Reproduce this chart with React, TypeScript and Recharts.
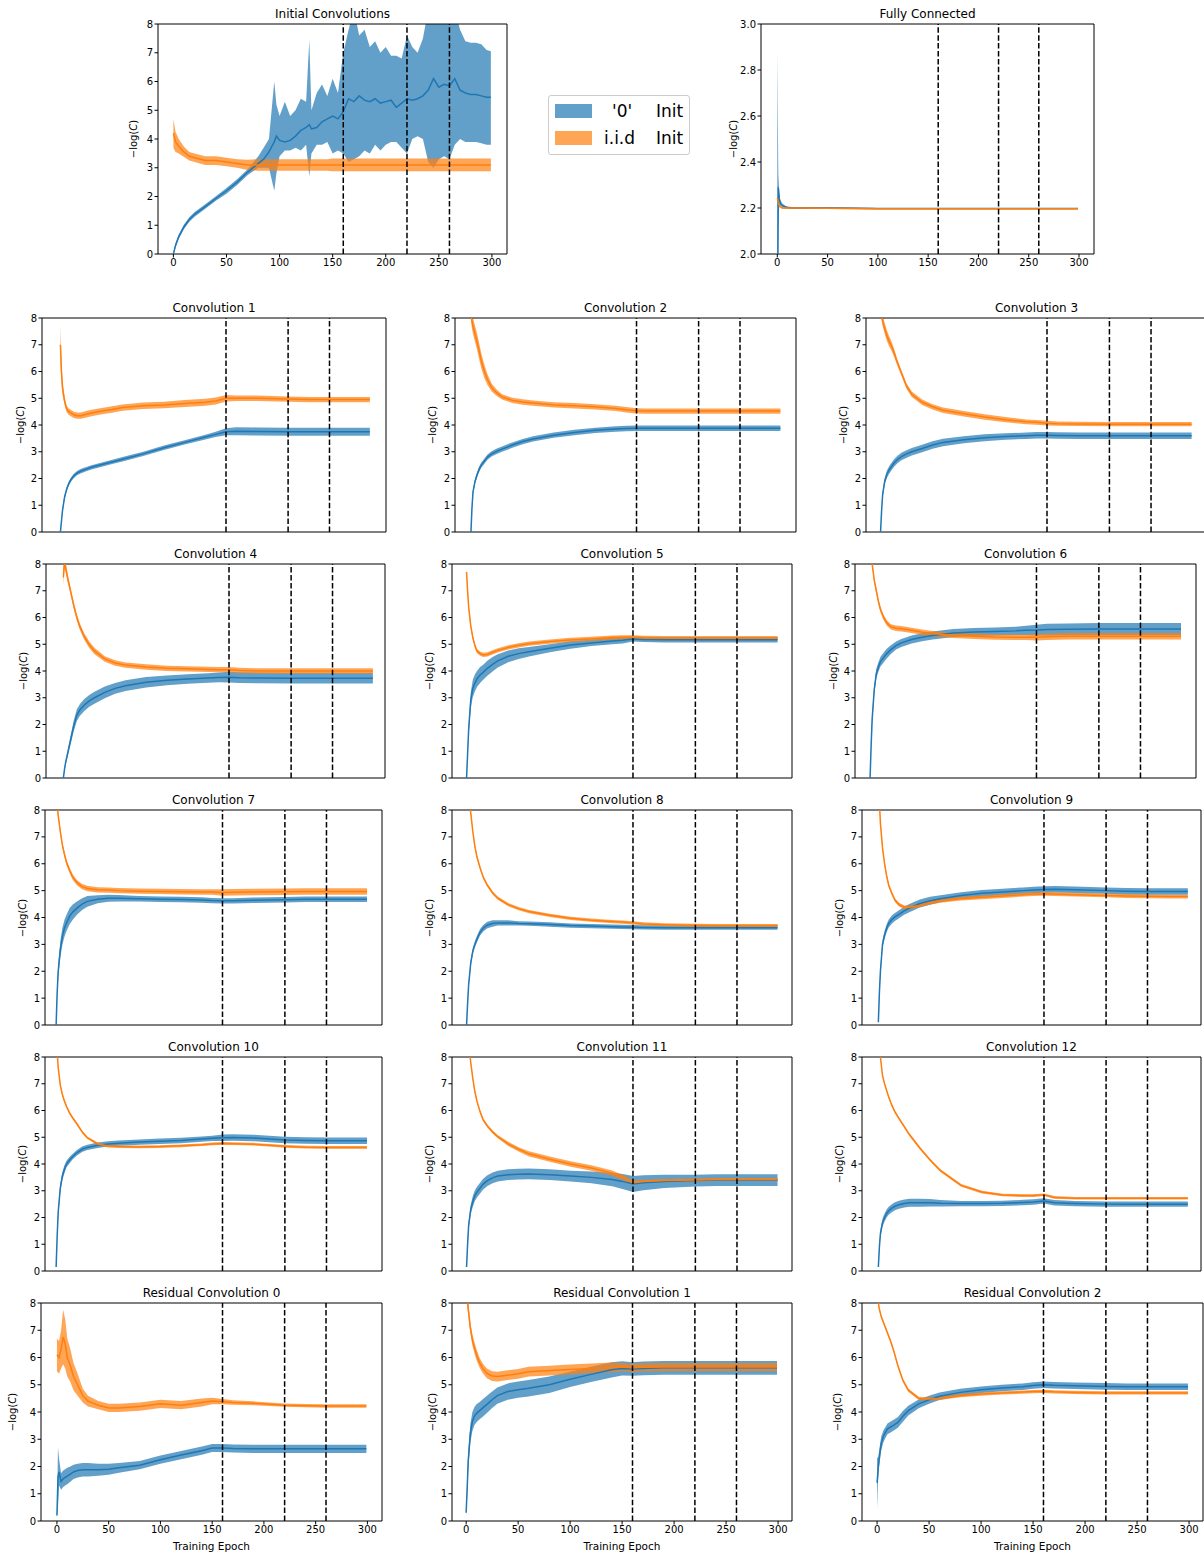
import React from 'react';
import { ComposedChart, Area, Line, XAxis, YAxis, ReferenceLine, ReferenceArea } from 'recharts';

const BLUE = '#1f77b4';
const ORANGE = '#ff7f0e';
const FONT = '"DejaVu Sans", sans-serif';

// learning-rate drops marked with dashed lines
const LR_DROPS = [160, 220, 260];
const X_TICKS = [0, 50, 100, 150, 200, 250, 300];
const Y_TICKS = [0, 1, 2, 3, 4, 5, 6, 7, 8];
const FC_Y_TICKS = [2.0, 2.2, 2.4, 2.6, 2.8, 3.0];

// sampled epochs for the 15 grid panels
const EPOCHS = [0, 1, 2, 4, 6, 8, 10, 13, 16, 20, 25, 30, 40, 50, 60, 80, 100, 120, 140, 150, 160, 170, 190, 220, 240, 260, 280, 299];

// Initial Convolutions
const INIT_EPOCHS = [0, 2, 5, 10, 15, 20, 30, 40, 50, 60, 70, 80, 85, 90, 95, 97, 100, 105, 110, 115, 120, 125, 128, 130, 135, 140, 145, 150, 155, 160, 165, 170, 175, 180, 185, 190, 195, 200, 205, 210, 215, 220, 225, 230, 235, 240, 245, 250, 255, 260, 265, 270, 275, 280, 285, 290, 295, 299];
const INIT_BLUE = [0, 0.3, 0.6, 0.95, 1.2, 1.38, 1.65, 1.93, 2.2, 2.5, 2.85, 3.15, 3.3, 3.55, 3.9, 4.1, 3.95, 3.9, 3.95, 4.1, 4.3, 4.4, 4.5, 4.35, 4.4, 4.6, 4.7, 4.8, 4.7, 4.95, 5.4, 5.3, 5.5, 5.35, 5.3, 5.4, 5.25, 5.3, 5.35, 5.1, 5.25, 5.4, 5.35, 5.4, 5.5, 5.7, 6.1, 5.8, 5.9, 5.85, 6.1, 5.7, 5.6, 5.55, 5.55, 5.5, 5.45, 5.45];
const INIT_BLUE_LO = [0, 0.22, 0.52, 0.87, 1.12, 1.3, 1.57, 1.85, 2.1, 2.4, 2.75, 3.0, 3.0, 3.0, 2.2, 2.8, 3.4, 3.6, 3.6, 3.7, 3.6, 3.8, 2.7, 3.5, 3.8, 3.8, 3.9, 3.5, 3.6, 3.5, 3.2, 3.3, 3.4, 3.6, 3.5, 3.8, 3.6, 3.8, 3.9, 3.9, 3.7, 3.5, 4.0, 4.1, 4.0, 3.2, 3.0, 3.3, 3.4, 3.3, 3.8, 4.0, 3.9, 3.9, 3.9, 3.85, 3.8, 3.8];
const INIT_BLUE_HI = [0.05, 0.38, 0.68, 1.03, 1.28, 1.46, 1.73, 2.01, 2.3, 2.6, 2.95, 3.4, 3.7, 4.0, 6.0, 5.2, 4.8, 5.3, 4.8, 5.0, 5.4, 5.3, 7.45, 5.0, 5.6, 5.9, 5.5, 6.1, 5.6, 7.0, 7.8, 8.5, 7.6, 7.8, 7.2, 7.4, 7.0, 7.2, 6.9, 6.9, 6.8, 7.6, 7.2, 7.0, 7.5, 8.5, 9.0, 9.0, 8.5, 8.8, 8.5, 7.8, 7.4, 7.35, 7.35, 7.3, 7.1, 7.05];
const INIT_ORANGE = [4.2, 3.9, 3.75, 3.55, 3.4, 3.35, 3.25, 3.25, 3.2, 3.15, 3.1, 3.1, 3.1, 3.1, 3.1, 3.1, 3.1, 3.1, 3.1, 3.1, 3.1, 3.1, 3.1, 3.1, 3.1, 3.1, 3.1, 3.1, 3.1, 3.1, 3.1, 3.1, 3.1, 3.1, 3.1, 3.1, 3.1, 3.1, 3.1, 3.1, 3.1, 3.1, 3.1, 3.1, 3.1, 3.1, 3.1, 3.1, 3.1, 3.1, 3.1, 3.1, 3.1, 3.1, 3.1, 3.1, 3.1, 3.1];
const INIT_ORANGE_SD = [0.5, 0.35, 0.25, 0.18, 0.15, 0.15, 0.15, 0.15, 0.15, 0.15, 0.18, 0.2, 0.2, 0.2, 0.2, 0.2, 0.2, 0.2, 0.2, 0.2, 0.2, 0.2, 0.2, 0.2, 0.2, 0.2, 0.2, 0.22, 0.22, 0.22, 0.22, 0.22, 0.22, 0.22, 0.22, 0.22, 0.22, 0.22, 0.22, 0.22, 0.22, 0.22, 0.22, 0.22, 0.22, 0.22, 0.22, 0.22, 0.22, 0.22, 0.22, 0.22, 0.22, 0.22, 0.22, 0.22, 0.22, 0.22];

// Fully Connected
const FC_EPOCHS = [0, 1, 2, 3, 5, 8, 10, 15, 20, 50, 100, 150, 200, 250, 299];
const FC_BLUE = [1.6, 2.29, 2.24, 2.22, 2.21, 2.205, 2.202, 2.2, 2.2, 2.2, 2.198, 2.198, 2.198, 2.198, 2.198];
const FC_BLUE_LO = [1.0, 2.1, 2.22, 2.21, 2.205, 2.2, 2.198, 2.197, 2.197, 2.197, 2.196, 2.196, 2.196, 2.196, 2.196];
const FC_BLUE_HI = [2.88, 2.35, 2.26, 2.235, 2.22, 2.21, 2.206, 2.204, 2.203, 2.203, 2.2, 2.2, 2.2, 2.2, 2.2];
const FC_ORANGE = [2.245, 2.225, 2.21, 2.205, 2.2, 2.2, 2.2, 2.2, 2.2, 2.199, 2.197, 2.197, 2.197, 2.197, 2.197];
const FC_ORANGE_SD = [0.004, 0.004, 0.003, 0.003, 0.003, 0.003, 0.003, 0.003, 0.003, 0.003, 0.003, 0.003, 0.003, 0.003, 0.003];

// Convolution 1..12 and residual convolutions (mean, spread) on EPOCHS
const CONV1_BLUE = [0, 0.4, 0.8, 1.3, 1.6, 1.8, 1.95, 2.1, 2.2, 2.28, 2.35, 2.42, 2.52, 2.62, 2.72, 2.92, 3.15, 3.35, 3.55, 3.65, 3.75, 3.77, 3.76, 3.75, 3.75, 3.75, 3.75, 3.75];
const CONV1_BLUE_SD = [0.02, 0.05, 0.08, 0.08, 0.08, 0.08, 0.08, 0.08, 0.08, 0.08, 0.08, 0.08, 0.08, 0.08, 0.08, 0.08, 0.08, 0.08, 0.09, 0.1, 0.13, 0.15, 0.15, 0.15, 0.15, 0.15, 0.15, 0.15];
const CONV1_ORANGE = [7.0, 6.0, 5.4, 4.9, 4.6, 4.5, 4.45, 4.38, 4.35, 4.35, 4.4, 4.45, 4.52, 4.58, 4.65, 4.72, 4.75, 4.8, 4.85, 4.9, 5.0, 5.0, 5.0, 4.97, 4.95, 4.95, 4.95, 4.95];
const CONV1_ORANGE_SD = [0.7, 0.4, 0.25, 0.15, 0.12, 0.12, 0.12, 0.12, 0.12, 0.12, 0.12, 0.12, 0.12, 0.12, 0.12, 0.12, 0.12, 0.13, 0.13, 0.13, 0.12, 0.1, 0.1, 0.1, 0.1, 0.1, 0.1, 0.1];

const CONV2_BLUE = [0, 0.9, 1.5, 1.9, 2.15, 2.35, 2.5, 2.65, 2.8, 2.92, 3.02, 3.1, 3.25, 3.38, 3.48, 3.62, 3.72, 3.8, 3.85, 3.87, 3.88, 3.88, 3.88, 3.88, 3.88, 3.88, 3.88, 3.88];
const CONV2_BLUE_SD = [0.02, 0.05, 0.08, 0.1, 0.1, 0.1, 0.1, 0.1, 0.1, 0.1, 0.1, 0.1, 0.1, 0.1, 0.1, 0.1, 0.1, 0.1, 0.1, 0.1, 0.1, 0.1, 0.1, 0.1, 0.1, 0.1, 0.1, 0.1];
const CONV2_ORANGE = [8.2, 7.9, 7.7, 7.4, 7.1, 6.75, 6.4, 6.0, 5.7, 5.4, 5.2, 5.05, 4.92, 4.86, 4.82, 4.75, 4.72, 4.68, 4.62, 4.57, 4.53, 4.52, 4.52, 4.52, 4.52, 4.52, 4.52, 4.52];
const CONV2_ORANGE_SD = [0.3, 0.3, 0.3, 0.3, 0.3, 0.3, 0.28, 0.25, 0.2, 0.15, 0.12, 0.1, 0.1, 0.1, 0.1, 0.1, 0.1, 0.1, 0.1, 0.1, 0.1, 0.1, 0.1, 0.1, 0.1, 0.1, 0.1, 0.1];

const CONV3_BLUE = [0, 0.8, 1.4, 1.9, 2.15, 2.3, 2.42, 2.58, 2.7, 2.82, 2.92, 3.0, 3.12, 3.25, 3.35, 3.45, 3.52, 3.57, 3.6, 3.62, 3.62, 3.61, 3.6, 3.6, 3.6, 3.6, 3.6, 3.6];
const CONV3_BLUE_SD = [0.02, 0.06, 0.1, 0.12, 0.14, 0.14, 0.14, 0.14, 0.14, 0.14, 0.14, 0.14, 0.14, 0.14, 0.14, 0.13, 0.13, 0.12, 0.12, 0.12, 0.12, 0.12, 0.12, 0.12, 0.12, 0.12, 0.12, 0.12];
const CONV3_ORANGE = [8.3, 8.1, 7.9, 7.6, 7.35, 7.15, 7.0, 6.7, 6.35, 5.95, 5.45, 5.15, 4.85, 4.68, 4.55, 4.42, 4.3, 4.2, 4.12, 4.1, 4.07, 4.05, 4.04, 4.03, 4.03, 4.03, 4.03, 4.03];
const CONV3_ORANGE_SD = [0.2, 0.2, 0.2, 0.2, 0.2, 0.2, 0.18, 0.15, 0.12, 0.1, 0.1, 0.1, 0.1, 0.1, 0.1, 0.1, 0.1, 0.1, 0.09, 0.09, 0.09, 0.08, 0.08, 0.08, 0.08, 0.08, 0.08, 0.08];

const CONV4_BLUE = [0, 0.3, 0.55, 0.9, 1.25, 1.6, 1.95, 2.35, 2.55, 2.72, 2.88, 3.0, 3.2, 3.35, 3.45, 3.58, 3.65, 3.7, 3.74, 3.76, 3.77, 3.75, 3.74, 3.73, 3.73, 3.73, 3.73, 3.73];
const CONV4_BLUE_SD = [0.02, 0.05, 0.08, 0.12, 0.15, 0.18, 0.2, 0.22, 0.22, 0.22, 0.22, 0.22, 0.22, 0.2, 0.2, 0.2, 0.18, 0.18, 0.18, 0.18, 0.2, 0.2, 0.2, 0.2, 0.2, 0.2, 0.2, 0.2];
const CONV4_ORANGE = [7.5, 8.1, 7.9, 7.5, 7.15, 6.8, 6.45, 6.0, 5.65, 5.3, 4.98, 4.75, 4.45, 4.3, 4.22, 4.15, 4.1, 4.08, 4.06, 4.05, 4.05, 4.02, 4.0, 4.0, 4.0, 4.0, 4.0, 4.0];
const CONV4_ORANGE_SD = [0.3, 0.3, 0.2, 0.15, 0.12, 0.12, 0.12, 0.12, 0.12, 0.12, 0.12, 0.12, 0.1, 0.1, 0.1, 0.1, 0.1, 0.1, 0.1, 0.1, 0.1, 0.1, 0.1, 0.1, 0.1, 0.1, 0.1, 0.1];

const CONV5_BLUE = [0, 0.9, 1.8, 2.9, 3.35, 3.55, 3.7, 3.85, 3.95, 4.1, 4.25, 4.38, 4.55, 4.65, 4.72, 4.85, 4.97, 5.05, 5.12, 5.15, 5.2, 5.18, 5.17, 5.17, 5.17, 5.17, 5.17, 5.17];
const CONV5_BLUE_SD = [0.02, 0.1, 0.2, 0.3, 0.32, 0.32, 0.3, 0.3, 0.28, 0.28, 0.27, 0.25, 0.22, 0.2, 0.18, 0.15, 0.14, 0.12, 0.12, 0.12, 0.1, 0.1, 0.1, 0.1, 0.1, 0.1, 0.1, 0.1];
const CONV5_ORANGE = [7.7, 7.0, 6.4, 5.7, 5.25, 4.95, 4.75, 4.65, 4.6, 4.62, 4.7, 4.77, 4.88, 4.96, 5.02, 5.1, 5.16, 5.2, 5.25, 5.26, 5.26, 5.24, 5.23, 5.23, 5.23, 5.23, 5.23, 5.23];
const CONV5_ORANGE_SD = [0.1, 0.1, 0.1, 0.08, 0.08, 0.08, 0.08, 0.08, 0.08, 0.08, 0.08, 0.08, 0.08, 0.08, 0.08, 0.08, 0.08, 0.08, 0.08, 0.08, 0.08, 0.08, 0.08, 0.08, 0.08, 0.08, 0.08, 0.08];

const CONV6_BLUE = [0, 1.2, 2.2, 3.3, 3.9, 4.15, 4.35, 4.5, 4.65, 4.8, 4.95, 5.05, 5.18, 5.26, 5.33, 5.42, 5.46, 5.48, 5.5, 5.52, 5.53, 5.55, 5.56, 5.57, 5.57, 5.57, 5.57, 5.57];
const CONV6_BLUE_SD = [0.02, 0.1, 0.15, 0.18, 0.18, 0.18, 0.18, 0.18, 0.18, 0.16, 0.15, 0.15, 0.15, 0.15, 0.15, 0.15, 0.15, 0.15, 0.15, 0.17, 0.2, 0.22, 0.22, 0.22, 0.22, 0.22, 0.22, 0.22];
const CONV6_ORANGE = [8.8, 8.4, 8.0, 7.4, 7.0, 6.6, 6.3, 6.0, 5.8, 5.65, 5.6, 5.58, 5.52, 5.45, 5.4, 5.33, 5.3, 5.27, 5.26, 5.26, 5.26, 5.28, 5.3, 5.3, 5.3, 5.3, 5.3, 5.3];
const CONV6_ORANGE_SD = [0.1, 0.1, 0.1, 0.1, 0.1, 0.1, 0.1, 0.1, 0.1, 0.1, 0.1, 0.1, 0.1, 0.1, 0.1, 0.1, 0.1, 0.1, 0.1, 0.1, 0.12, 0.12, 0.12, 0.12, 0.12, 0.12, 0.12, 0.12];

const CONV7_BLUE = [0, 1.2, 2.0, 2.8, 3.3, 3.6, 3.8, 4.05, 4.2, 4.35, 4.5, 4.6, 4.68, 4.72, 4.72, 4.7, 4.68, 4.67, 4.65, 4.63, 4.62, 4.62, 4.64, 4.66, 4.68, 4.68, 4.68, 4.68];
const CONV7_BLUE_SD = [0.02, 0.15, 0.25, 0.3, 0.32, 0.32, 0.3, 0.3, 0.28, 0.25, 0.22, 0.2, 0.15, 0.13, 0.12, 0.1, 0.1, 0.1, 0.1, 0.1, 0.1, 0.1, 0.1, 0.1, 0.1, 0.1, 0.1, 0.1];
const CONV7_ORANGE = [8.8, 8.2, 7.8, 7.2, 6.7, 6.35, 6.05, 5.75, 5.5, 5.3, 5.15, 5.08, 5.03, 5.02, 5.0, 4.98, 4.97, 4.96, 4.95, 4.95, 4.93, 4.94, 4.95, 4.96, 4.97, 4.97, 4.97, 4.97];
const CONV7_ORANGE_SD = [0.1, 0.1, 0.1, 0.1, 0.1, 0.1, 0.1, 0.1, 0.1, 0.1, 0.1, 0.1, 0.1, 0.1, 0.1, 0.1, 0.1, 0.1, 0.1, 0.1, 0.12, 0.12, 0.12, 0.12, 0.12, 0.12, 0.12, 0.12];

const CONV8_BLUE = [0, 0.8, 1.5, 2.3, 2.75, 3.0, 3.2, 3.45, 3.6, 3.72, 3.78, 3.8, 3.8, 3.78, 3.77, 3.74, 3.7, 3.68, 3.66, 3.65, 3.64, 3.63, 3.62, 3.62, 3.62, 3.62, 3.62, 3.62];
const CONV8_BLUE_SD = [0.02, 0.08, 0.1, 0.12, 0.12, 0.12, 0.12, 0.12, 0.12, 0.12, 0.12, 0.1, 0.1, 0.08, 0.08, 0.08, 0.08, 0.08, 0.08, 0.08, 0.08, 0.08, 0.08, 0.08, 0.08, 0.08, 0.08, 0.08];
const CONV8_ORANGE = [9.5, 9.0, 8.6, 7.9, 7.2, 6.65, 6.25, 5.85, 5.5, 5.2, 4.92, 4.72, 4.48, 4.33, 4.22, 4.08, 3.97, 3.9, 3.85, 3.83, 3.8, 3.76, 3.73, 3.71, 3.7, 3.7, 3.7, 3.7];
const CONV8_ORANGE_SD = [0.06, 0.06, 0.06, 0.06, 0.06, 0.06, 0.06, 0.06, 0.06, 0.06, 0.06, 0.06, 0.06, 0.06, 0.06, 0.06, 0.06, 0.06, 0.06, 0.06, 0.06, 0.06, 0.06, 0.06, 0.06, 0.06, 0.06, 0.06];

const CONV9_BLUE = [0.1, 1.2, 2.0, 3.0, 3.35, 3.6, 3.78, 3.92, 4.02, 4.12, 4.25, 4.35, 4.52, 4.62, 4.7, 4.82, 4.9, 4.95, 5.0, 5.02, 5.04, 5.05, 5.03, 5.0, 4.98, 4.97, 4.97, 4.97];
const CONV9_BLUE_SD = [0.05, 0.15, 0.15, 0.15, 0.15, 0.15, 0.15, 0.15, 0.15, 0.15, 0.15, 0.15, 0.15, 0.15, 0.13, 0.12, 0.12, 0.12, 0.12, 0.12, 0.12, 0.12, 0.12, 0.12, 0.12, 0.12, 0.12, 0.12];
const CONV9_ORANGE = [9.0, 8.3, 7.5, 6.6, 6.0, 5.55, 5.2, 4.9, 4.65, 4.48, 4.38, 4.38, 4.45, 4.55, 4.62, 4.7, 4.75, 4.8, 4.85, 4.87, 4.88, 4.87, 4.85, 4.82, 4.8, 4.79, 4.78, 4.78];
const CONV9_ORANGE_SD = [0.07, 0.07, 0.07, 0.07, 0.07, 0.07, 0.07, 0.07, 0.07, 0.07, 0.07, 0.07, 0.07, 0.07, 0.07, 0.07, 0.07, 0.07, 0.07, 0.07, 0.07, 0.07, 0.07, 0.07, 0.07, 0.07, 0.07, 0.07];

const CONV10_BLUE = [0.15, 1.3, 2.2, 3.1, 3.55, 3.8, 4.0, 4.15, 4.28, 4.42, 4.55, 4.62, 4.7, 4.75, 4.78, 4.82, 4.85, 4.88, 4.93, 4.96, 4.98, 4.99, 4.97, 4.9, 4.88, 4.87, 4.87, 4.87];
const CONV10_BLUE_SD = [0.02, 0.1, 0.15, 0.15, 0.15, 0.15, 0.12, 0.12, 0.1, 0.1, 0.1, 0.1, 0.1, 0.1, 0.1, 0.1, 0.1, 0.1, 0.1, 0.1, 0.12, 0.12, 0.12, 0.12, 0.12, 0.12, 0.12, 0.12];
const CONV10_ORANGE = [9.0, 8.2, 7.6, 6.95, 6.6, 6.35, 6.15, 5.9, 5.72, 5.5, 5.2, 4.98, 4.75, 4.67, 4.65, 4.64, 4.65, 4.68, 4.72, 4.75, 4.77, 4.76, 4.74, 4.66, 4.63, 4.62, 4.62, 4.62];
const CONV10_ORANGE_SD = [0.05, 0.05, 0.05, 0.05, 0.05, 0.05, 0.05, 0.05, 0.05, 0.05, 0.05, 0.05, 0.05, 0.05, 0.05, 0.05, 0.05, 0.05, 0.05, 0.05, 0.05, 0.05, 0.05, 0.05, 0.05, 0.05, 0.05, 0.05];

const CONV11_BLUE = [0.15, 1.0, 1.7, 2.3, 2.6, 2.82, 2.95, 3.1, 3.25, 3.38, 3.48, 3.55, 3.6, 3.62, 3.63, 3.6, 3.55, 3.5, 3.42, 3.35, 3.25, 3.3, 3.35, 3.38, 3.4, 3.4, 3.4, 3.4];
const CONV11_BLUE_SD = [0.02, 0.12, 0.15, 0.18, 0.2, 0.2, 0.2, 0.2, 0.2, 0.2, 0.2, 0.2, 0.2, 0.2, 0.2, 0.2, 0.2, 0.22, 0.25, 0.28, 0.3, 0.28, 0.25, 0.22, 0.22, 0.22, 0.22, 0.22];
const CONV11_ORANGE = [9.5, 9.0, 8.5, 7.8, 7.2, 6.7, 6.35, 5.95, 5.65, 5.42, 5.2, 5.02, 4.75, 4.55, 4.38, 4.18, 4.0, 3.85, 3.66, 3.5, 3.3, 3.35, 3.38, 3.4, 3.42, 3.42, 3.42, 3.42];
const CONV11_ORANGE_SD = [0.06, 0.06, 0.06, 0.06, 0.06, 0.06, 0.06, 0.06, 0.06, 0.06, 0.06, 0.06, 0.08, 0.08, 0.1, 0.1, 0.1, 0.1, 0.1, 0.1, 0.08, 0.06, 0.06, 0.06, 0.06, 0.06, 0.06, 0.06];

const CONV12_BLUE = [0.15, 0.9, 1.4, 1.8, 2.0, 2.15, 2.25, 2.35, 2.42, 2.48, 2.52, 2.55, 2.55, 2.55, 2.53, 2.52, 2.52, 2.53, 2.56, 2.58, 2.62, 2.55, 2.52, 2.5, 2.5, 2.5, 2.5, 2.5];
const CONV12_BLUE_SD = [0.02, 0.1, 0.15, 0.15, 0.15, 0.15, 0.15, 0.15, 0.15, 0.15, 0.15, 0.15, 0.15, 0.14, 0.12, 0.1, 0.1, 0.1, 0.1, 0.1, 0.1, 0.1, 0.1, 0.1, 0.1, 0.1, 0.1, 0.1];
const CONV12_ORANGE = [9.0, 8.5, 8.0, 7.3, 7.0, 6.75, 6.5, 6.2, 5.95, 5.7, 5.4, 5.1, 4.6, 4.15, 3.75, 3.2, 2.95, 2.84, 2.82, 2.82, 2.85, 2.75, 2.72, 2.72, 2.72, 2.72, 2.72, 2.72];
const CONV12_ORANGE_SD = [0.05, 0.05, 0.05, 0.05, 0.05, 0.05, 0.05, 0.05, 0.05, 0.05, 0.05, 0.05, 0.05, 0.05, 0.05, 0.05, 0.05, 0.05, 0.05, 0.05, 0.05, 0.05, 0.05, 0.05, 0.05, 0.05, 0.05, 0.05];

const RES0_BLUE = [0.2, 1.6, 1.8, 1.45, 1.55, 1.6, 1.65, 1.72, 1.8, 1.85, 1.88, 1.88, 1.88, 1.9, 1.95, 2.05, 2.25, 2.42, 2.58, 2.68, 2.68, 2.66, 2.65, 2.65, 2.65, 2.65, 2.65, 2.65];
const RES0_BLUE_SD = [0.05, 1.1, 0.5, 0.3, 0.3, 0.3, 0.3, 0.28, 0.26, 0.25, 0.25, 0.25, 0.22, 0.2, 0.18, 0.15, 0.15, 0.15, 0.15, 0.15, 0.15, 0.15, 0.15, 0.15, 0.15, 0.15, 0.15, 0.15];
const RES0_ORANGE = [6.1, 6.05, 6.0, 6.3, 6.75, 6.5, 6.0, 5.7, 5.3, 5.0, 4.6, 4.4, 4.25, 4.15, 4.15, 4.2, 4.3, 4.25, 4.35, 4.4, 4.38, 4.35, 4.32, 4.25, 4.23, 4.22, 4.22, 4.22];
const RES0_ORANGE_SD = [0.6, 0.6, 0.6, 0.7, 1.0, 0.9, 0.7, 0.6, 0.5, 0.4, 0.25, 0.2, 0.15, 0.15, 0.15, 0.15, 0.15, 0.15, 0.15, 0.12, 0.1, 0.08, 0.07, 0.06, 0.06, 0.06, 0.06, 0.06];

const RES1_BLUE = [0.3, 1.2, 2.2, 3.2, 3.65, 3.85, 3.95, 4.05, 4.15, 4.28, 4.45, 4.6, 4.75, 4.82, 4.87, 5.0, 5.2, 5.38, 5.55, 5.6, 5.58, 5.6, 5.62, 5.62, 5.62, 5.62, 5.62, 5.62];
const RES1_BLUE_SD = [0.1, 0.3, 0.35, 0.35, 0.35, 0.33, 0.33, 0.32, 0.32, 0.32, 0.3, 0.3, 0.3, 0.3, 0.3, 0.3, 0.28, 0.28, 0.28, 0.26, 0.25, 0.25, 0.25, 0.25, 0.25, 0.25, 0.25, 0.25];
const RES1_ORANGE = [8.6, 8.2, 7.8, 7.1, 6.65, 6.35, 6.1, 5.8, 5.6, 5.42, 5.32, 5.3, 5.35, 5.4, 5.48, 5.52, 5.56, 5.6, 5.64, 5.65, 5.62, 5.64, 5.65, 5.65, 5.65, 5.65, 5.65, 5.65];
const RES1_ORANGE_SD = [0.3, 0.3, 0.25, 0.2, 0.2, 0.2, 0.2, 0.18, 0.18, 0.18, 0.18, 0.18, 0.18, 0.18, 0.18, 0.18, 0.18, 0.18, 0.18, 0.15, 0.15, 0.15, 0.15, 0.15, 0.15, 0.15, 0.15, 0.15];

const RES2_BLUE = [1.4, 1.9, 2.3, 2.85, 3.1, 3.25, 3.38, 3.45, 3.52, 3.62, 3.85, 4.05, 4.3, 4.45, 4.58, 4.72, 4.82, 4.88, 4.93, 4.97, 5.0, 4.98, 4.96, 4.94, 4.93, 4.93, 4.93, 4.93];
const RES2_BLUE_SD = [0.95, 0.4, 0.3, 0.25, 0.22, 0.2, 0.2, 0.2, 0.2, 0.2, 0.2, 0.18, 0.16, 0.15, 0.14, 0.13, 0.12, 0.12, 0.12, 0.12, 0.12, 0.12, 0.12, 0.12, 0.12, 0.12, 0.12, 0.12];
const RES2_ORANGE = [8.4, 8.1, 7.8, 7.5, 7.3, 7.1, 6.9, 6.6, 6.25, 5.7, 5.15, 4.8, 4.5, 4.48, 4.5, 4.6, 4.66, 4.7, 4.73, 4.75, 4.76, 4.74, 4.72, 4.7, 4.7, 4.7, 4.7, 4.7];
const RES2_ORANGE_SD = [0.06, 0.06, 0.06, 0.06, 0.06, 0.06, 0.06, 0.06, 0.06, 0.06, 0.06, 0.06, 0.06, 0.06, 0.06, 0.06, 0.06, 0.06, 0.06, 0.06, 0.06, 0.06, 0.06, 0.06, 0.06, 0.06, 0.06, 0.06];

type Series = { mean: number[]; lo: number[]; hi: number[] };

const spread = (mean: number[], sd: number[]): Series => ({
  mean,
  lo: mean.map((v, i) => v - sd[i]),
  hi: mean.map((v, i) => v + sd[i]),
});
const bounds = (mean: number[], lo: number[], hi: number[]): Series => ({ mean, lo, hi });

type PanelSpec = {
  title: string;
  box: [number, number, number, number]; // plot area: left, top, right, bottom
  xDomain: [number, number];
  yDomain?: [number, number];
  yTicks?: number[];
  yFormat?: (v: number) => string;
  xTicks?: boolean;
  xLabel?: boolean;
  yLabelGap?: number;
  epochs: number[];
  blue: Series;
  orange: Series;
};

const PANELS: PanelSpec[] = [
  { title: 'Initial Convolutions', box: [158, 24, 507, 254], xDomain: [-14.5, 314.2], xTicks: true, yLabelGap: 25, epochs: INIT_EPOCHS, blue: bounds(INIT_BLUE, INIT_BLUE_LO, INIT_BLUE_HI), orange: spread(INIT_ORANGE, INIT_ORANGE_SD) },
  { title: 'Fully Connected', box: [761, 24, 1094, 254], xDomain: [-16.2, 314.9], yDomain: [2, 3], yTicks: FC_Y_TICKS, yFormat: (v) => v.toFixed(1), xTicks: true, yLabelGap: 28, epochs: FC_EPOCHS, blue: bounds(FC_BLUE, FC_BLUE_LO, FC_BLUE_HI), orange: spread(FC_ORANGE, FC_ORANGE_SD) },
  { title: 'Convolution 1', box: [42, 318, 386, 532], xDomain: [-17.8, 314.6], yLabelGap: 22, epochs: EPOCHS, blue: spread(CONV1_BLUE, CONV1_BLUE_SD), orange: spread(CONV1_ORANGE, CONV1_ORANGE_SD) },
  { title: 'Convolution 2', box: [455, 318, 796, 532], xDomain: [-15.4, 314.1], epochs: EPOCHS, blue: spread(CONV2_BLUE, CONV2_BLUE_SD), orange: spread(CONV2_ORANGE, CONV2_ORANGE_SD) },
  { title: 'Convolution 3', box: [866, 318, 1207, 532], xDomain: [-14.0, 313.8], epochs: EPOCHS, blue: spread(CONV3_BLUE, CONV3_BLUE_SD), orange: spread(CONV3_ORANGE, CONV3_ORANGE_SD) },
  { title: 'Convolution 4', box: [46, 564, 385, 778], xDomain: [-16.8, 310.7], epochs: EPOCHS, blue: spread(CONV4_BLUE, CONV4_BLUE_SD), orange: spread(CONV4_ORANGE, CONV4_ORANGE_SD) },
  { title: 'Convolution 5', box: [452, 564, 792, 778], xDomain: [-14.0, 312.9], epochs: EPOCHS, blue: spread(CONV5_BLUE, CONV5_BLUE_SD), orange: spread(CONV5_ORANGE, CONV5_ORANGE_SD) },
  { title: 'Convolution 6', box: [855, 564, 1196, 778], xDomain: [-14.5, 313.4], yLabelGap: 22, epochs: EPOCHS, blue: spread(CONV6_BLUE, CONV6_BLUE_SD), orange: spread(CONV6_ORANGE, CONV6_ORANGE_SD) },
  { title: 'Convolution 7', box: [45, 810, 382, 1025], xDomain: [-10.7, 313.4], epochs: EPOCHS, blue: spread(CONV7_BLUE, CONV7_BLUE_SD), orange: spread(CONV7_ORANGE, CONV7_ORANGE_SD) },
  { title: 'Convolution 8', box: [452, 810, 792, 1025], xDomain: [-14.0, 312.9], epochs: EPOCHS, blue: spread(CONV8_BLUE, CONV8_BLUE_SD), orange: spread(CONV8_ORANGE, CONV8_ORANGE_SD) },
  { title: 'Convolution 9', box: [862, 810, 1201, 1025], xDomain: [-15.8, 311.7], epochs: EPOCHS, blue: spread(CONV9_BLUE, CONV9_BLUE_SD), orange: spread(CONV9_ORANGE, CONV9_ORANGE_SD) },
  { title: 'Convolution 10', box: [45, 1057, 382, 1271], xDomain: [-10.7, 313.4], epochs: EPOCHS, blue: spread(CONV10_BLUE, CONV10_BLUE_SD), orange: spread(CONV10_ORANGE, CONV10_ORANGE_SD) },
  { title: 'Convolution 11', box: [452, 1057, 792, 1271], xDomain: [-14.0, 312.9], epochs: EPOCHS, blue: spread(CONV11_BLUE, CONV11_BLUE_SD), orange: spread(CONV11_ORANGE, CONV11_ORANGE_SD) },
  { title: 'Convolution 12', box: [862, 1057, 1201, 1271], xDomain: [-15.8, 311.7], epochs: EPOCHS, blue: spread(CONV12_BLUE, CONV12_BLUE_SD), orange: spread(CONV12_ORANGE, CONV12_ORANGE_SD) },
  { title: 'Residual Convolution 0', box: [41, 1303, 382, 1521], xDomain: [-15.4, 314.1], xTicks: true, xLabel: true, yLabelGap: 29, epochs: EPOCHS, blue: spread(RES0_BLUE, RES0_BLUE_SD), orange: spread(RES0_ORANGE, RES0_ORANGE_SD) },
  { title: 'Residual Convolution 1', box: [452, 1303, 792, 1521], xDomain: [-13.6, 313.4], xTicks: true, xLabel: true, yLabelGap: 20, epochs: EPOCHS, blue: spread(RES1_BLUE, RES1_BLUE_SD), orange: spread(RES1_ORANGE, RES1_ORANGE_SD) },
  { title: 'Residual Convolution 2', box: [862, 1303, 1203, 1521], xDomain: [-14.5, 313.4], xTicks: true, xLabel: true, yLabelGap: 25, epochs: EPOCHS, blue: spread(RES2_BLUE, RES2_BLUE_SD), orange: spread(RES2_ORANGE, RES2_ORANGE_SD) },
];

const tickStyle = { fill: '#000', fontSize: 10, fontFamily: FONT };

function Panel({ p }: { p: PanelSpec }) {
  const [l, t, r, b] = p.box;
  const YW = 40;
  const TM = 8;
  const RM = 6;
  // panels without x tick labels still need room below for the "0" y tick
  const XH = p.xTicks ? 20 : 8;
  const yDomain = p.yDomain ?? [0, 8];
  const rows = p.epochs.map((e, i) => ({
    epoch: e,
    blue: p.blue.mean[i],
    blueBand: [p.blue.lo[i], p.blue.hi[i]],
    orange: p.orange.mean[i],
    orangeBand: [p.orange.lo[i], p.orange.hi[i]],
  }));

  return (
    <>
      <div style={{ position: 'absolute', left: l - YW, top: t - TM }}>
        <ComposedChart
          width={YW + (r - l) + RM}
          height={TM + (b - t) + XH}
          data={rows}
          margin={{ top: TM, right: RM, bottom: 0, left: 0 }}
        >
          <XAxis
            type="number"
            dataKey="epoch"
            domain={p.xDomain}
            allowDataOverflow
            ticks={X_TICKS}
            interval={0}
            height={XH}
            axisLine={false}
            tick={p.xTicks ? tickStyle : false}
            tickLine={p.xTicks ? { stroke: '#000' } : false}
            tickSize={3.5}
            tickMargin={1.5}
          />
          <YAxis
            type="number"
            domain={yDomain}
            allowDataOverflow
            ticks={p.yTicks ?? Y_TICKS}
            interval={0}
            width={YW}
            axisLine={false}
            tick={tickStyle}
            tickLine={{ stroke: '#000' }}
            tickSize={3.5}
            tickMargin={1.5}
            tickFormatter={p.yFormat}
          />
          <Area dataKey="blueBand" type="linear" stroke="none" fill={BLUE} fillOpacity={0.7} dot={false} activeDot={false} isAnimationActive={false} />
          <Line dataKey="blue" type="linear" stroke={BLUE} strokeWidth={1.5} dot={false} activeDot={false} isAnimationActive={false} />
          <Area dataKey="orangeBand" type="linear" stroke="none" fill={ORANGE} fillOpacity={0.7} dot={false} activeDot={false} isAnimationActive={false} />
          <Line dataKey="orange" type="linear" stroke={ORANGE} strokeWidth={1.5} dot={false} activeDot={false} isAnimationActive={false} />
          {LR_DROPS.map((x) => (
            <ReferenceLine key={x} x={x} stroke="#000" strokeWidth={1.5} strokeDasharray="5.5 2.4" />
          ))}
          <ReferenceArea
            x1={p.xDomain[0]}
            x2={p.xDomain[1]}
            y1={yDomain[0]}
            y2={yDomain[1]}
            fill="none"
            fillOpacity={0}
            stroke="#000"
            strokeWidth={1}
            ifOverflow="visible"
          />
        </ComposedChart>
      </div>
      <div
        style={{
          position: 'absolute',
          left: l,
          width: r - l,
          top: t - 18,
          lineHeight: '16px',
          fontSize: 12,
          textAlign: 'center',
          whiteSpace: 'nowrap',
        }}
      >
        {p.title}
      </div>
      <div
        style={{
          position: 'absolute',
          left: l - (p.yLabelGap ?? 23),
          top: (t + b) / 2,
          transform: 'translate(-50%, -50%) rotate(-90deg)',
          fontSize: 10,
          whiteSpace: 'nowrap',
        }}
      >
        −log(<i>C</i>)
      </div>
      {p.xLabel && (
        <div
          style={{
            position: 'absolute',
            left: l,
            width: r - l,
            top: 1538,
            lineHeight: '16px',
            fontSize: 10.5,
            textAlign: 'center',
          }}
        >
          Training Epoch
        </div>
      )}
    </>
  );
}

function LegendBox() {
  const patch = (top: number, color: string) => (
    <div style={{ position: 'absolute', left: 6, top, width: 37, height: 14, background: color, opacity: 0.7 }} />
  );
  const text = (left: number, top: number, s: string) => (
    <span style={{ position: 'absolute', left, top, lineHeight: '20px', fontSize: 17, whiteSpace: 'pre' }}>{s}</span>
  );
  return (
    <div
      style={{
        position: 'absolute',
        left: 548,
        top: 95,
        width: 140,
        height: 58,
        border: '1px solid #cccccc',
        borderRadius: 3,
        background: '#fff',
      }}
    >
      {patch(8, BLUE)}
      {patch(35, ORANGE)}
      {text(63, 5, "'0'")}
      {text(107, 5, 'Init')}
      {text(55, 32, 'i.i.d')}
      {text(107, 32, 'Init')}
    </div>
  );
}

export default function App() {
  return (
    <div
      style={{
        position: 'absolute',
        left: 0,
        top: 0,
        width: 1204,
        height: 1553,
        overflow: 'hidden',
        background: '#fff',
        fontFamily: FONT,
        color: '#000',
      }}
    >
      {PANELS.map((p) => (
        <Panel key={p.title} p={p} />
      ))}
      <LegendBox />
    </div>
  );
}
